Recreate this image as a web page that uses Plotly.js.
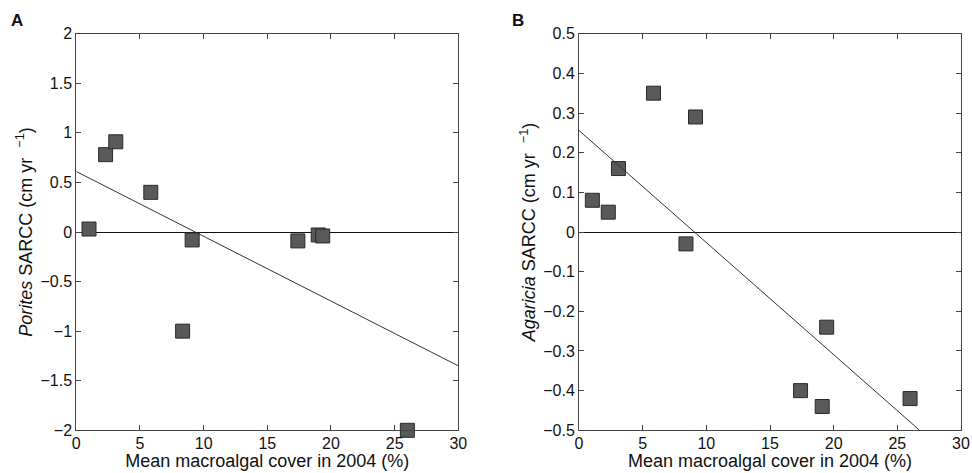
<!DOCTYPE html>
<html>
<head>
<meta charset="utf-8">
<script src="https://cdn.plot.ly/plotly-3.0.1.min.js"></script>
<style>html,body{margin:0;padding:0;background:#fff;}#chart{width:972px;height:473px;}</style>
</head>
<body>
<div id="chart"></div>
<script>
// Panel A: Porites
const poritesX = [1.0, 2.3, 3.1, 5.85, 9.1, 8.35, 17.4, 19.0, 19.35, 26.0];
const poritesY = [0.03, 0.78, 0.91, 0.40, -0.08, -1.0, -0.09, -0.03, -0.04, -2.0];
const poritesFitX = [0, 30];
const poritesFitY = [0.61, -1.35];

// Panel B: Agaricia
const agariciaX = [1.05, 2.3, 3.1, 5.85, 9.15, 8.4, 19.45, 17.4, 19.1, 26.0];
const agariciaY = [0.08, 0.05, 0.16, 0.35, 0.29, -0.03, -0.24, -0.40, -0.44, -0.42];
const agariciaFitX = [0, 26.75];
const agariciaFitY = [0.256, -0.5];

const xTitle = 'Mean macroalgal cover in 2004 (%)';
const yTitleA = '<i>Porites</i> SARCC (cm yr  <sup>−1</sup>)';
const yTitleB = '<i>Agaricia</i> SARCC (cm yr  <sup>−1</sup>)';
const panelLabels = ['A', 'B'];

const W = 972, H = 473;
const font = {family: 'Liberation Sans, Arial, sans-serif', color: '#111', size: 16};
const marker = {symbol: 'square', size: 14, color: '#595959', line: {color: '#2a2a2a', width: 1}};
const fitLine = {color: '#333', width: 1};

const traces = [
  {x: poritesX, y: poritesY, type: 'scatter', mode: 'markers', marker: marker, xaxis: 'x', yaxis: 'y', cliponaxis: false},
  {x: poritesFitX, y: poritesFitY, type: 'scatter', mode: 'lines', line: fitLine, xaxis: 'x', yaxis: 'y'},
  {x: agariciaX, y: agariciaY, type: 'scatter', mode: 'markers', marker: marker, xaxis: 'x2', yaxis: 'y2', cliponaxis: false},
  {x: agariciaFitX, y: agariciaFitY, type: 'scatter', mode: 'lines', line: fitLine, xaxis: 'x2', yaxis: 'y2'}
];

const yDom = [1 - 430.3 / H, 1 - 33.7 / H];
const axisCommon = {
  showgrid: false, showline: true, linecolor: '#444', linewidth: 1, mirror: 'ticks',
  ticks: 'inside', ticklen: 5, tickcolor: '#444', tickfont: {size: 16, color: '#111'},
  automargin: false, fixedrange: true
};

const layout = {
  width: W, height: H, showlegend: false,
  paper_bgcolor: '#fff', plot_bgcolor: '#fff', font: font,
  margin: {l: 0, r: 0, t: 0, b: 0},
  xaxis: Object.assign({}, axisCommon, {domain: [76.3 / W, 458.3 / W], range: [0, 30], dtick: 5, zeroline: false,
    anchor: 'y', ticklabelstandoff: -2, title: {text: xTitle, font: {size: 18}, standoff: 0}}),
  yaxis: Object.assign({}, axisCommon, {domain: yDom, range: [-2, 2], dtick: 0.5, anchor: 'x',
    zeroline: true, zerolinecolor: '#111', zerolinewidth: 1,
    title: {text: yTitleA, font: {size: 18}, standoff: 3}}),
  xaxis2: Object.assign({}, axisCommon, {domain: [579 / W, 961 / W], range: [0, 30], dtick: 5, zeroline: false,
    anchor: 'y2', ticklabelstandoff: -2, title: {text: xTitle, font: {size: 18}, standoff: 0}}),
  yaxis2: Object.assign({}, axisCommon, {domain: yDom, range: [-0.5, 0.5], dtick: 0.1, anchor: 'x2',
    zeroline: true, zerolinecolor: '#111', zerolinewidth: 1,
    title: {text: yTitleB, font: {size: 18}, standoff: 2}}),
  annotations: [
    {text: '<b>' + panelLabels[0] + '</b>', xref: 'paper', yref: 'paper', x: 9 / W, y: 1 - 9 / H,
     xanchor: 'left', yanchor: 'top', showarrow: false, font: {size: 17, color: '#111'}},
    {text: '<b>' + panelLabels[1] + '</b>', xref: 'paper', yref: 'paper', x: 510 / W, y: 1 - 9 / H,
     xanchor: 'left', yanchor: 'top', showarrow: false, font: {size: 17, color: '#111'}}
  ]
};

Plotly.newPlot('chart', traces, layout, {displayModeBar: false, staticPlot: true});
</script>
</body>
</html>
